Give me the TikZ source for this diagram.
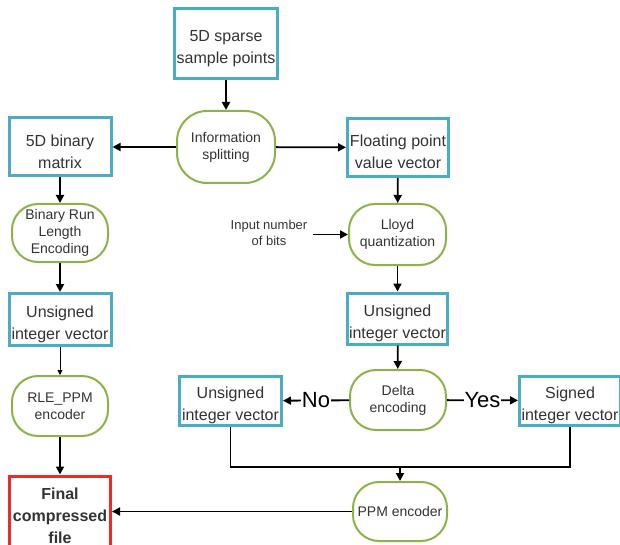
\documentclass[tikz,border=0pt]{standalone}
\usepackage{fontspec}
\setmainfont{Liberation Sans}
\usetikzlibrary{arrows.meta}
\definecolor{boxblue}{HTML}{4BACC6}
\definecolor{procgreen}{HTML}{8DB24A}
\definecolor{finalred}{HTML}{EE2A2A}
\definecolor{txt}{HTML}{333333}
\newcommand{\lowerstrut}{\rule{0pt}{21pt}}
\tikzset{
  databox/.style={draw=boxblue, line width=3pt, fill=white, inner sep=0pt, align=center,
    text=txt, font=\fontsize{16}{22}\selectfont},
  procbox/.style={draw=procgreen, line width=2pt, fill=white, inner sep=0pt, align=center,
    text=txt, font=\fontsize{14}{17}\selectfont, rounded corners=26pt},
  finalbox/.style={draw=finalred, line width=3pt, fill=white, inner sep=0pt, align=center,
    text=txt, font=\fontsize{16}{22}\selectfont\bfseries},
  flow/.style={line width=1.8pt, -{Triangle[length=8pt,width=8pt]}},
  thinflow/.style={line width=0.8pt, -{Triangle[length=5pt,width=5pt]}},
  plain/.style={line width=1.8pt},
  decision/.style={font=\fontsize{22}{24}\selectfont, fill=white, inner sep=1pt, text=black}
}
\begin{document}
\begin{tikzpicture}[x=1pt,y=-1pt]
\useasboundingbox (0,0) rectangle (620,545);
% data boxes
\node[databox, minimum width=103pt, minimum height=70pt] (sparse) at (226,44) {\lowerstrut 5D sparse\\sample points};
\node[databox, minimum width=102pt, minimum height=58pt] (binmat) at (60,147) {\lowerstrut 5D binary\\matrix};
\node[databox, minimum width=101pt, minimum height=58pt] (float) at (398,147.5) {\lowerstrut Floating point\\value vector};
\node[databox, minimum width=102pt, minimum height=52pt] (uleft) at (60,319.5) {\lowerstrut Unsigned\\integer vector};
\node[databox, minimum width=100pt, minimum height=51pt] (uright) at (397.5,318.5) {\lowerstrut Unsigned\\integer vector};
\node[databox, minimum width=102pt, minimum height=49pt] (umid) at (230.5,401) {\lowerstrut Unsigned\\integer vector};
\node[databox, minimum width=101pt, minimum height=49pt] (signed) at (570,400.5) {\lowerstrut Signed\\integer vector};
\node[finalbox, minimum width=101pt, minimum height=80pt] (final) at (60,516) {Final\\compressed\\file};
% process nodes
\node[procbox, minimum width=98pt, minimum height=72pt, rounded corners=30pt] (split) at (226,147) {Information\\splitting};
\node[procbox, minimum width=96pt, minimum height=58pt] (brle) at (60,233) {Binary Run\\Length\\Encoding};
\node[procbox, minimum width=97pt, minimum height=61pt] (lloyd) at (397.5,234.5) {Lloyd\\quantization};
\node[procbox, minimum width=96pt, minimum height=60pt] (rleppm) at (60,406) {RLE\_PPM\\encoder};
\node[procbox, minimum width=96pt, minimum height=60pt] (delta) at (398,400) {Delta\\encoding};
\node[procbox, minimum width=94pt, minimum height=59pt] (ppm) at (400,511.5) {PPM encoder};
% input label
\node[align=center, text=txt, font=\fontsize{13}{16}\selectfont, inner sep=2pt] (bits) at (269,233) {Input number\\of bits};
\coordinate (merge) at (400,467);
\coordinate (bitsout) at ([xshift=3pt]bits.east |- lloyd.west);
% connectors
\draw[flow] (sparse) -- (split);
\draw[flow] (split) -- (binmat);
\draw[flow] (split) -- (float);
\draw[flow] (binmat) -- (brle);
\draw[flow] (brle) -- (uleft);
\draw[thinflow] (uleft) -- (rleppm);
\draw[flow] (rleppm) -- (final);
\draw[flow] (float) -- (lloyd);
\draw[flow] (bitsout) -- (lloyd.west);
\draw[flow] (lloyd) -- (uright);
\draw[flow] (uright) -- (delta);
\draw[flow] (delta) -- node[decision] {No} (umid);
\draw[flow] (delta) -- node[decision] {Yes} (signed);
\draw[plain] (umid.south) |- (merge);
\draw[plain] (signed.south) |- (merge);
\draw[flow] (merge) -- (ppm);
\draw[flow] (ppm.west) -- (ppm.west -| final.east);
\end{tikzpicture}
\end{document}
